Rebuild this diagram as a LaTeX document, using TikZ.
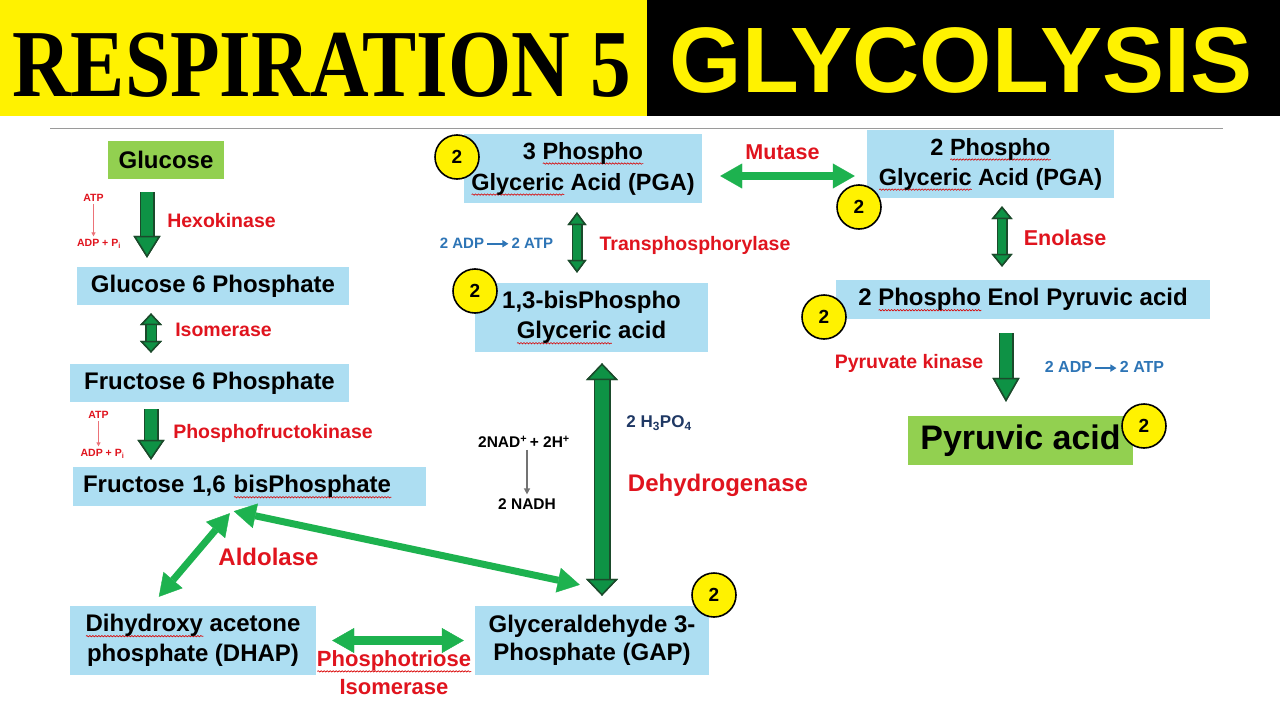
\documentclass[tikz,border=0pt]{standalone}
\usepackage{graphicx}
\usepackage{fontspec}
\setmainfont{Liberation Sans}
\newfontfamily\titleserif{Liberation Serif}
\usetikzlibrary{arrows.meta,calc,decorations.pathmorphing}
\definecolor{boxblue}{HTML}{ADDEF2}
\definecolor{boxgreen}{HTML}{92D050}
\definecolor{enzred}{HTML}{E0141E}
\definecolor{atpblue}{HTML}{2E75B6}
\definecolor{navyblue}{HTML}{1F3864}
\definecolor{bkfill}{HTML}{0E9245}
\definecolor{bkdark}{HTML}{1B4A2B}
\definecolor{brgreen}{HTML}{1DB24F}
\definecolor{linegray}{HTML}{9A9A9A}
\newcommand\fs[2]{\fontsize{#1}{#2}\selectfont}
% spell-check style wavy underline
\newsavebox\sqbox
\newcommand\sqw[1]{\sbox\sqbox{#1}%
  \rlap{\smash{\tikz[baseline=0pt]\draw[red!85!black, line width=0.6pt, decorate,
    decoration={snake, amplitude=0.7pt, segment length=3pt}]
    (0pt,-4.5pt) -- (\wd\sqbox,-4.5pt);}}\usebox\sqbox}
% small inline reaction arrow
\newcommand\rarr{\,\smash{\tikz[baseline=0pt]\draw[atpblue, line width=1.6pt,
  -{Triangle[length=6pt,width=7pt]}] (0pt,4.5pt) -- (21pt,4.5pt);}\,}
% block arrow: #1 extra options, #2 shaft width, #3 head length, #4 head width, #5 path
\newcommand\barrow[5]{%
  \draw[line width=#2+3pt, draw=bkdark,
    >={Triangle[length=#3,width=#4,line width=1.5pt,fill=bkdark,color=bkdark]}, #1] #5;
  \draw[line width=#2, draw=bkfill,
    >={Triangle[length=#3,width=#4,line width=1.5pt,fill=bkfill,color=bkdark]}, #1] #5;}
\tikzset{
  box/.style={fill=boxblue, inner sep=0pt, align=center, font=\bfseries\fs{24}{30}},
  gbox/.style={box, fill=boxgreen},
  enz/.style={text=enzred, inner sep=0pt, font=\bfseries\fs{19.5}{22}},
  num/.style={circle, draw=black, line width=1.6pt, fill=yellow, minimum size=44pt,
    inner sep=0pt, font=\bfseries\fs{19}{19}},
  atp/.style={text=atpblue, inner sep=0pt, font=\bfseries\fs{15}{18}},
  smallred/.style={text=enzred, inner sep=0pt, font=\bfseries\fs{10.5}{12}},
  redthin/.style={draw=enzred!60, line width=0.9pt, -{Triangle[length=4pt,width=4pt]}},
  graythin/.style={draw=gray!90!black, line width=1.4pt, -{Triangle[length=6pt,width=6pt]}},
  brtip/.tip={Triangle[length=22pt,width=25pt,line width=0.4pt,fill=brgreen,color=brgreen]},
  brar/.style={draw=brgreen, line width=7.5pt, brtip-brtip},
}
\begin{document}
\begin{tikzpicture}[x=1pt,y=-1pt]
\useasboundingbox (0,0) rectangle (1280,720);
\fill[white] (0,0) rectangle (1280,720);
% title band
\fill[yellow] (0,0) rectangle (647,116);
\fill[black] (647,0) rectangle (1280,116);
\node[anchor=base west, inner sep=0pt] (t1) at (12,96)
  {\titleserif\bfseries\fs{96}{96}\scalebox{0.846}[1]{RESPIRATION 5}};
\node[anchor=base, inner sep=0pt, text=yellow, font=\bfseries\fs{93}{93}] (t2) at (961,92) {GLYCOLYSIS};
\draw[linegray, line width=1pt] (50,128) -- (1223,128);

% boxes
\node[gbox, minimum width=116pt, minimum height=38pt] (glc) at (166,160) {Glucose};
\node[box, minimum width=272pt, minimum height=38pt] (g6p) at (213,286) {Glucose 6 Phosphate};
\node[box, minimum width=279pt, minimum height=38pt] (f6p) at (209.5,383) {Fructose 6 Phosphate};
\node[box, minimum height=39pt, text width=333pt, align=left, inner xsep=10pt] (fbp) at (249.5,486.5) {Fructose 1,6 \sqw{bisPhosphate}};
\node[box, minimum width=246pt, minimum height=69pt] (dhap) at (193,640.5) {\sqw{Dihydroxy} acetone\\phosphate (DHAP)};
\node[box, minimum width=234pt, minimum height=69pt, font=\bfseries\fs{24}{28}] (gap) at (592,640.5) {Glyceraldehyde 3-\\Phosphate (GAP)};
\node[box, minimum width=233pt, minimum height=69pt] (bpg) at (591.5,317.5) {1,3-bisPhospho\\\sqw{Glyceric} acid};
\node[box, minimum width=238pt, minimum height=69pt, font=\bfseries\fs{23.5}{31}] (pga3) at (583,168.5) {3 \sqw{Phospho}\\\sqw{Glyceric} Acid (PGA)};
\node[box, minimum width=247pt, minimum height=68pt, font=\bfseries\fs{23.5}{30}] (pga2) at (990.5,164) {2 \sqw{Phospho}\\\sqw{Glyceric} Acid (PGA)};
\node[box, minimum width=374pt, minimum height=39pt] (pep) at (1023,299.5) {2 \sqw{Phospho} Enol Pyruvic acid};
\node[gbox, minimum width=225pt, minimum height=49pt, font=\bfseries\fs{34}{40}] (pyr) at (1020.5,440.5) {Pyruvic acid};

% number circles
\node[num] (n1) at (457,157) {2};
\node[num] (n2) at (475,291) {2};
\node[num] (n3) at (859,207) {2};
\node[num] (n4) at (824,317) {2};
\node[num] (n5) at (1144,426) {2};
\node[num] (n6) at (714,595) {2};

% enzyme labels
\node[enz] (hexo) at (221.5,221) {Hexokinase};
\node[enz] (isom) at (223.5,330) {Isomerase};
\node[enz] (pfk) at (273,433) {Phosphofructokinase};
\node[enz, font=\bfseries\fs{24}{28}] (aldo) at (268.5,557) {Aldolase};
\node[enz, align=center, font=\bfseries\fs{22}{28}] (ptri) at (394,673) {\sqw{Phosphotriose}\\Isomerase};
\node[enz] (trans) at (695,245) {Transphosphorylase};
\node[enz, font=\bfseries\fs{21.5}{24}] (mut) at (782.5,152) {Mutase};
\node[enz, font=\bfseries\fs{21.5}{24}] (eno) at (1065,238) {Enolase};
\node[enz, font=\bfseries\fs{24}{28}] (dehy) at (718,485) {Dehydrogenase};
\node[enz] (pk) at (909,363) {Pyruvate kinase};

% cofactors
\node[smallred] (atp1) at (93.5,198) {ATP};
\node[smallred] (adpi1) at (99,244) {ADP + P\textsubscript{i}};
\node[smallred] (atp2) at (98.5,415) {ATP};
\node[smallred] (adpi2) at (102.5,454) {ADP + P\textsubscript{i}};
\draw[redthin, shorten <=2pt, shorten >=3pt] (atp1) -- (atp1 |- adpi1.north);
\draw[redthin, shorten <=2pt, shorten >=3pt] (atp2) -- (atp2 |- adpi2.north);
\node[atp] (adp1) at (496.5,243) {2 ADP\rarr2 ATP};
\node[atp, font=\bfseries\fs{16}{18}] (adp2) at (1104.5,367) {2 ADP\rarr2 ATP};
\node[inner sep=0pt, text=navyblue, font=\bfseries\fs{17}{20}] (h3po4) at (659,423) {2 H\textsubscript{3}PO\textsubscript{4}};
\node[inner sep=0pt, font=\bfseries\fs{15.5}{18}] (nad) at (524,442) {2NAD\textsuperscript{+}\,+ 2H\textsuperscript{+}};
\node[inner sep=0pt, font=\bfseries\fs{15.5}{18}] (nadh) at (527,504) {2 NADH};
\draw[graythin, shorten <=2pt, shorten >=4pt] (nad.south -| nadh) -- (nadh.north);

% x positions of vertical arrows
\coordinate (xhex) at (147,0);
\coordinate (xiso) at (151,0);
\coordinate (xtr) at (577,0);
\coordinate (xdh) at (602,0);
\coordinate (xen) at (1002,0);
\coordinate (xpk) at (1006,0);
\coordinate (ymu) at (0,176);

% block arrows
\barrow{->, shorten <=13pt, shorten >=9pt}{12pt}{22pt}{27pt}{(glc.south -| xhex) -- (g6p.north -| xhex)}
\barrow{<->, shorten <=8pt, shorten >=11pt}{9pt}{12pt}{22pt}{(g6p.south -| xiso) -- (f6p.north -| xiso)}
\barrow{->, shorten <=7pt, shorten >=7pt}{12pt}{20pt}{27pt}{(f6p.south -| xiso) -- (fbp.north -| xiso)}
\barrow{<->, shorten <=9pt, shorten >=10pt}{8pt}{13pt}{19pt}{(pga3.south -| xtr) -- (bpg.north -| xtr)}
\barrow{<->, shorten <=11pt, shorten >=10pt}{14pt}{17pt}{32pt}{(bpg.south -| xdh) -- (gap.north -| xdh)}
\barrow{<->, shorten <=8pt, shorten >=13pt}{8pt}{13pt}{21pt}{(pga2.south -| xen) -- (pep.north -| xen)}
\barrow{->, shorten <=14pt, shorten >=14pt}{12pt}{24pt}{27pt}{(pep.south -| xpk) -- (pyr.north -| xpk)}

% bright green double arrows
\draw[brar, shorten <=18pt, shorten >=12pt] (pga3.east |- ymu) -- (pga2.west |- ymu);
\draw[brar, line width=9pt, shorten <=16pt, shorten >=11pt] (dhap) -- (gap);
\coordinate (al1) at ($(fbp.south west)+(157,7)$);
\coordinate (al2) at ($(dhap.north west)+(89,-9)$);
\coordinate (al3) at ($(fbp.south west)+(161,5)$);
\coordinate (al4) at ($(gap.north west)+(105,-21)$);
\draw[brar, line width=7pt] (al1) -- (al2);
\draw[brar, line width=7pt] (al3) -- (al4);
\end{tikzpicture}
\end{document}
